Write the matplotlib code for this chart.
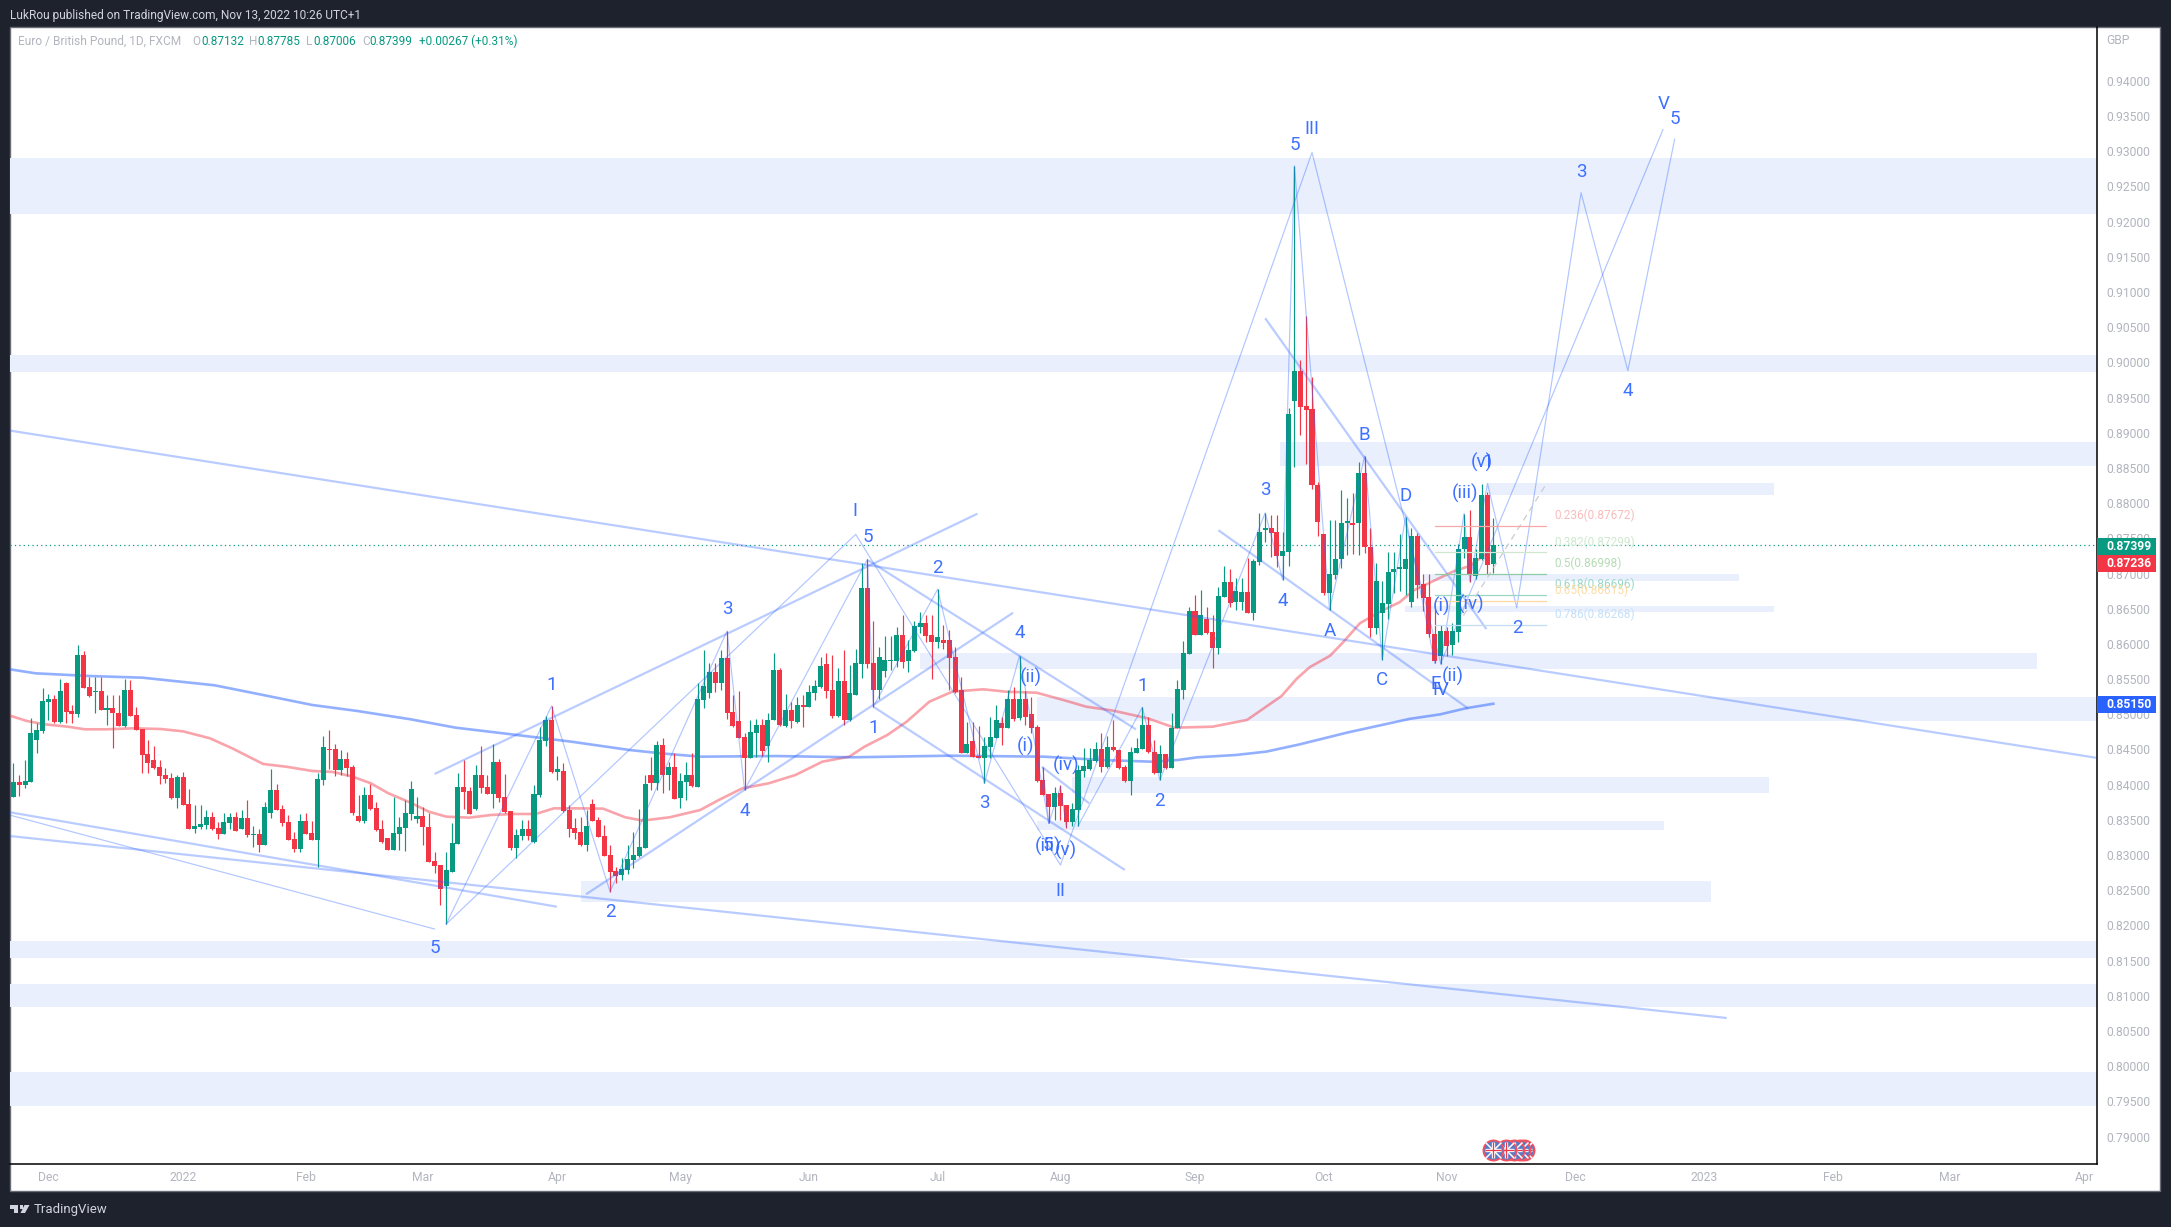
import numpy as np
import matplotlib
matplotlib.use("Agg")
import matplotlib.pyplot as plt
from matplotlib.patches import Rectangle, Polygon

plt.rcParams["font.family"] = ["Roboto", "DejaVu Sans"]

# daily candles
opens = [
    .83831,.84039,.83996,.84043,.84635,.84764,.85175,.85217,.84891,.85450,
    .85047,.85004,.85843,.85393,.85317,.85331,.85066,.85090,.85019,.84839,
    .85345,.84990,.84796,.84436,.84351,.84251,.84138,.84095,.83816,.84109,
    .83726,.83376,.83404,.83428,.83546,.83390,.83305,.83461,.83541,.83376,
    .83527,.83290,.83300,.83148,.83603,.83925,.83655,.83470,.83229,.83092,
    .83485,.83314,.83220,.84071,.84507,.84507,.84209,.84365,.84256,.83555,
    .83485,.83854,.83669,.83371,.83243,.83073,.83300,.83390,.83589,.83513,
    .83555,.83404,.82916,.82859,.82561,.82765,.83162,.83967,.83911,.83650,
    .84138,.83967,.83868,.84323,.83826,.83627,.83101,.83272,.83371,.83186,
    .83849,.84626,.84920,.84181,.84195,.83640,.83385,.83328,.83144,.83726,
    .83499,.83271,.83000,.82774,.82717,.82788,.82930,.82987,.83101,.84138,
    .84024,.84564,.84138,.84251,.83811,.84039,.84138,.83972,
    .85203,.85307,.85601,.85445,.85800,.85033,.84905,.84677,.84379,.84739,
    .84848,.84550,.84920,.85630,.84834,.85061,.84891,.85132,.85104,.85307,
    .85388,.85714,.85345,.84976,.85473,.84920,.85274,.85714,.86794,.85729,
    .85345,.85615,.85752,.85752,.86126,.85757,.85899,.86240,.86297,.86126,
    .86027,.86055,.86055,.85814,.85345,.84450,.84622,.84407,.84379,.84535,
    .84663,.84876,.84805,.85217,.84947,.85217,.85004,.84819,.84066,.83868,
    .83683,.83882,.83711,.83470,.83641,.84194,.84223,.84336,.84507,.84251,
    .84535,.84493,.84251,.84052,.84450,.84507,.84848,.84465,.84161,.84436,
    .84237,.84805,.85345,.85856,.86467,.86126,.86354,.86169,.85942,.86666,
    .86879,.86595,.86595,.86737,.86440,.87163,.87618,.87646,.87589,.87248,
    .87310,.89457,.89876,.89381,.89338,.88251,.87560,.86717,.86984,.87212,
    .87723,.87723,.87723,.88425,.87370,.86228,.86446,.86566,.87027,.87071,
    .87071,.86593,.87533,.86848,.86663,.86147,.85821,.86185,.85978,.86174,
    .87354,.87517,.86962,.87207,.88110,.87132,
]
closes = [
    .84039,.83996,.84053,.84740,.84778,.85189,.85217,.84891,.85331,.85033,
    .85004,.85843,.85379,.85260,.85331,.85066,.85090,.85014,.84839,.85345,
    .84981,.84782,.84427,.84313,.84237,.84124,.84086,.83811,.84114,.83717,
    .83376,.83413,.83442,.83546,.83376,.83305,.83470,.83541,.83347,.83527,
    .83286,.83300,.83148,.83683,.83925,.83640,.83451,.83215,.83092,.83485,
    .83300,.83220,.84081,.84536,.84498,.84209,.84365,.84242,.83593,.83485,
    .83854,.83650,.83357,.83191,.83073,.83310,.83404,.83598,.83939,.83555,
    .83394,.82907,.82850,.82519,.82788,.83172,.83967,.83901,.83584,.84138,
    .83958,.83868,.84323,.83807,.83612,.83101,.83286,.83371,.83272,.83868,
    .84635,.84920,.84181,.84223,.83627,.83371,.83314,.83144,.83413,.83485,
    .83257,.82990,.82760,.82703,.82803,.82945,.83000,.83115,.84010,.84024,
    .84564,.84138,.84251,.83802,.84053,.84138,.83981,.85217,
    .85402,.85601,.85445,.85800,.85023,.84834,.84663,.84379,.84749,.84848,
    .84479,.84920,.85630,.84848,.85061,.84905,.85132,.85104,.85317,.85402,
    .85686,.85336,.84976,.85473,.84920,.85298,.85729,.86794,.85714,.85345,
    .85814,.85771,.85771,.86126,.85743,.85913,.86254,.86297,.86112,.86027,
    .86098,.86017,.85800,.85321,.84450,.84578,.84393,.84379,.84550,.84677,
    .84920,.84805,.85217,.84938,.85217,.84961,.84805,.84052,.83853,.83683,
    .83882,.83697,.83470,.83655,.84209,.84265,.84350,.84507,.84251,.84535,
    .84493,.84237,.84052,.84464,.84521,.84848,.84460,.84161,.84436,.84237,
    .84805,.85360,.85866,.86467,.86126,.86410,.86155,.85942,.86680,.86879,
    .86581,.86751,.86737,.86440,.87182,.87589,.87646,.87575,.87248,.87319,
    .89267,.89876,.89370,.89327,.88251,.87734,.86717,.86990,.87212,.87723,
    .87740,.87696,.88425,.87370,.86228,.86892,.86582,.87027,.87071,.87093,
    .87201,.87533,.86837,.86658,.86147,.85750,.86185,.85967,.86185,.87354,
    .87517,.86973,.87218,.88110,.87125,.87399,
]
highs = [
    .84304,.84138,.84351,.84943,.84872,.85369,.85284,.85274,.85497,.85464,
    .85132,.85985,.85900,.85535,.85535,.85535,.85274,.85274,.85274,.85497,
    .85487,.85109,.84796,.84635,.84550,.84351,.84232,.84162,.84138,.84185,
    .83939,.83712,.83712,.83640,.83617,.83475,.83593,.83603,.83617,.83640,
    .83783,.83413,.83366,.83759,.84218,.84010,.83712,.83570,.83333,.83584,
    .83603,.83489,.84162,.84692,.84778,.84574,.84493,.84469,.84280,.83854,
    .83972,.84010,.83759,.83499,.83243,.83831,.83546,.83783,.84057,.83831,
    .83688,.83593,.83049,.82859,.83049,.83451,.84162,.84351,.83972,.84280,
    .84550,.84138,.84578,.84361,.84152,.83627,.83366,.83499,.83499,.83996,
    .84825,.84976,.85118,.84408,.84304,.83712,.83522,.83546,.83640,.83797,
    .83546,.83428,.83144,.82826,.82954,.83144,.83333,.83650,.84138,.84398,
    .84616,.84659,.84327,.84446,.84162,.84327,.84446,.85440,
    .85913,.85724,.85724,.85913,.86183,.85274,.85331,.84730,.84920,.84933,
    .84933,.85023,.85866,.85653,.85288,.85180,.85251,.85274,.85411,.85487,
    .85819,.85866,.85842,.85653,.85913,.85700,.85923,.87144,.87201,.86325,
    .85961,.86112,.86112,.86245,.86410,.86055,.86330,.86458,.86410,.86410,
    .86775,.86268,.86197,.85961,.85535,.84895,.84895,.84834,.84673,.84966,
    .85132,.84966,.85345,.85392,.85833,.85336,.85251,.84848,.84256,.83868,
    .83972,.83996,.83711,.83735,.84280,.84526,.84516,.84611,.84730,.84692,
    .84920,.84493,.84280,.84540,.84658,.85099,.84966,.84635,.84564,.84436,
    .85014,.85487,.86041,.86519,.86694,.86765,.86529,.86410,.86813,.87106,
    .87059,.86931,.86931,.87215,.87201,.87855,.87855,.87831,.87831,.87594,
    .89354,.92790,.90028,.90659,.89789,.88305,.87560,.87761,.87761,.88180,
    .88071,.88142,.88577,.88669,.87653,.87147,.86892,.87299,.87299,.87560,
    .87805,.87653,.87582,.87000,.87000,.86484,.86266,.86240,.86294,.87419,
    .87843,.87897,.87354,.88278,.88158,.87785,
]
lows = [
    .83831,.83845,.83958,.84043,.84455,.84730,.84920,.84881,.84872,.84872,
    .84872,.84967,.85379,.85251,.85014,.85061,.84848,.84526,.84839,.84825,
    .84981,.84782,.84162,.84162,.84228,.84010,.84020,.83792,.83674,.83712,
    .83366,.83319,.83376,.83366,.83357,.83234,.83295,.83366,.83347,.83366,
    .83262,.83120,.83044,.83139,.83522,.83640,.83413,.83215,.83049,.83049,
    .83300,.83215,.82836,.84001,.84218,.84124,.84138,.84124,.83570,.83475,
    .83461,.83640,.83347,.83177,.83073,.83073,.83073,.83063,.83499,.83451,
    .83144,.82907,.82750,.82291,.82021,.82765,.83162,.83650,.83584,.83640,
    .83878,.83868,.83664,.83759,.83603,.83073,.82954,.83215,.83215,.83177,
    .83831,.84550,.84171,.84067,.83617,.83262,.83224,.83130,.83063,.83485,
    .83257,.82987,.82481,.82599,.82647,.82732,.82812,.82978,.83096,.83925,
    .83925,.83878,.83925,.83802,.83664,.83783,.83963,.83972,
    .85085,.85227,.85312,.85345,.84928,.84824,.84659,.83925,.84374,.84398,
    .84407,.84327,.84920,.84834,.84824,.84810,.84872,.84824,.85099,.85203,
    .85369,.85227,.84943,.84966,.84848,.84910,.85274,.85516,.85653,.85108,
    .85213,.85535,.85630,.85677,.85653,.85601,.85890,.86150,.86032,.85500,
    .85937,.85927,.85345,.85307,.84445,.84445,.84388,.84374,.84019,.84374,
    .84659,.84564,.84800,.84910,.84920,.84848,.84730,.84043,.83853,.83451,
    .83498,.83498,.83380,.83413,.83413,.84114,.84209,.84327,.84185,.84232,
    .84483,.84228,.84043,.83858,.84445,.84502,.84445,.84152,.84066,.84228,
    .84232,.84805,.85217,.85856,.86126,.86122,.86140,.85662,.85857,.86661,
    .86529,.86481,.86481,.86434,.86339,.87121,.87452,.87239,.87097,.86908,
    .87109,.88517,.88974,.88550,.88196,.87527,.86701,.86484,.86919,.87082,
    .87261,.87272,.87261,.87288,.86093,.86147,.85777,.86348,.86728,.86756,
    .86701,.86522,.86658,.86473,.86093,.85723,.85712,.85832,.85843,.86022,
    .87218,.86875,.86919,.87191,.87000,.87006,
]

# moving averages, sampled along the curves (bar, price)
ma_red_bars = [-0.6,2.3,5.3,9.2,12.2,16,20.6,25.2,29,33.6,37.4,42.7,46.6,51.1,54.6,58,61.1,64.1,67.9,71,74,77.9,
               81.7,85.5,89.3,92.4,96.2,100.8,104.6,107.6,112.2,117.4,120.6,124.6,129.1,133.7,138.3,142.9,145.5,
               149.4,152.7,156.6,160.5,165.8,169.7,174.9,179.5,183.4,188,193.9,198.5,205,210.9,216.8,219.4,221.6,
               225.1,227.3,230.2,233.6,237,239.3,242.7,246.1,249,253]
ma_red_vals = [.84981,.84905,.84858,.84825,.84787,.84787,.84801,.84791,.84758,.84659,.84517,.84294,.84256,.84195,
               .84181,.84114,.8402,.83878,.83745,.83617,.83546,.83532,.8357,.83584,.83584,.83664,.83664,.8366,
               .83537,.8349,.83537,.8364,.83783,.83948,.84019,.84138,.84327,.84398,.8454,.84706,.84895,.8518,
               .85321,.85355,.85321,.85307,.85203,.85108,.85052,.84943,.8481,.84824,.8492,.8526,.85506,.85669,
               .85832,.86022,.86294,.86457,.86593,.86756,.86892,.87027,.87109,.87354]
ma_blue_bars = [-0.6,3.8,13,22.1,34.4,42.7,51.1,58.8,67.9,75.6,84.7,95.4,105.3,110.7,117.4,130.5,143.5,159.9,176.2,
                186,194.5,199.1,202.4,209,214.2,219.9,228,238.7,243.9,248.4,253]
ma_blue_vals = [.85639,.85582,.85544,.8552,.85412,.85274,.85132,.85047,.84929,.8481,.8472,.84611,.84493,.84446,
                .84398,.84407,.84389,.84412,.84398,.84351,.84327,.84351,.84389,.84422,.8447,.84573,.84740,.84935,
                .84999,.85087,.8515]

# support / resistance zones: first bar, last bar, low, high
zone_start = [-1,-1,216.6,251.9,240.9,237.9,155,175,181,175,97,-1,-1,-1]
zone_end = [357,357,357,300.9,295,300.9,346,357,300.2,282.2,290.2,357,357,357]
zone_low = [.92109,.89865,.88533,.88116,.86893,.86457,.85644,.84909,.83886,.83356,.82338,.81543,.80842,.79434]
zone_high = [.92903,.90104,.88871,.88279,.86990,.86538,.85871,.85246,.84111,.83484,.82631,.81780,.81169,.79917]

# thick trend lines: bar0, price0, bar1, price1
trend_bar0 = [-0.6,-0.6,-0.6,72,97.9,146.1,147,175.8,206,214]
trend_val0 = [.8903,.83271,.83608,.84152,.82443,.87188,.85108,.84256,.87615,.90626]
trend_bar1 = [356.1,292.9,92.9,164.8,170.9,191.9,190,183.9,248.7,251.8]
trend_val1 = [.84382,.80686,.82267,.87849,.86443,.84786,.82789,.83736,.85082,.86212]

# thin elliott wave paths
big_wave_bars = [74,144,179,222,244,282]
big_wave_vals = [.82021,.87556,.82859,.9298,.85723,.93305]
wave_a_bars = [74,92,102,122,125,146,147,158,166,172,177]
wave_a_vals = [.82021,.85118,.82481,.86183,.83925,.87201,.85108,.86775,.84019,.85833,.83451]
wave_b_bars = [176,177,179,180]
wave_b_vals = [.84232,.83451,.83972,.83404]
wave_c_bars = [182,193,196,214,217,219,225,231,234,238,243]
wave_c_vals = [.83413,.85099,.84066,.87862,.86908,.9279,.86484,.88669,.85777,.87805,.85723]
wave_d_bars = [244,248,249,252,257,268,276,284]
wave_d_vals = [.85714,.87854,.86884,.88281,.86511,.92409,.89881,.9317]
wave_e_bars = [-0.6,72]
wave_e_vals = [.83568,.8195]

fib_levels = ["0.236(0.87672)","0.382(0.87299)","0.5(0.86998)","0.618(0.86696)","0.65(0.86615)","0.786(0.86268)"]
fib_vals = [.87672,.87299,.86998,.86696,.86615,.86268]
fib_line_colors = ["#f7a9a9","#cfe6cf","#8fcba6","#9ad6c4","#fdd8a0","#c5dcf5"]
fib_text_colors = ["#f9bcbc","#cfe8cf","#b5dcb5","#9bd8c8","#fddca8","#c4e0f8"]

wave_labels = ["1","2","5","I","5","3","4","1","2","4","3","(ii)","(i)","(iv)","(iii)","5","(v)","II","1","2",
               "III","5","3","4","A","B","C","D","E","IV","(ii)","(i)","(iv)","(iii)","(v)","1","3","4","2","V","5"]
wave_label_bars = [92,102,72,143.9,146,122,125,147,157.9,172,166,174,173,180,176.9,176.8,180,179,193,196,
                   222,219,214,217,225,231,234,238,243.1,244,246,244.15,249.2,248.1,251,252.1,268,276,257.1,282.2,284.1]
wave_label_vals = [.85416,.82196,.81676,.87890,.87514,.86491,.83626,.848,.87073,.8615,.83735,.85525,.8455,.8428,
                   .83129,.83145,.83072,.82495,.85407,.83768,.93310,.93089,.8818,.86614,.8618,.88974,.85489,.88104,
                   .85424,.85342,.85533,.86538,.86565,.88142,.88577,.88586,.92708,.89599,.86228,.93669,.93456]

month_labels = ["Dec","2022","Feb","Mar","Apr","May","Jun","Jul","Aug","Sep","Oct","Nov","Dec","2023","Feb","Mar","Apr"]
month_bars = [6,29,50,70,93,114,136,158,179,202,224,245,267,289,311,331,354]
price_ticks = [.79,.795,.80,.805,.81,.815,.82,.825,.83,.835,.84,.845,.85,.855,.86,.865,.87,.875,.88,.885,
               .89,.895,.90,.905,.91,.915,.92,.925,.93,.935,.94]
flag_bars = [253,255.1,256.5,257.5,258.2]

UP = "#089981"
DOWN = "#f23645"
BLUE = "#2962ff"
DARK = "#1e222d"
GREY = "#b2b5be"
W, H = 2171, 1227

fig = plt.figure(figsize=(W / 100, H / 100), dpi=100, facecolor=DARK)
fig.add_artist(Rectangle((10 / W, 1 - 1191 / H), 2150 / W, 1164 / H, transform=fig.transFigure,
                         fc="white", ec="#6a6d78", lw=1, zorder=-1))

ax = fig.add_axes([10 / W, 1 - 1164 / H, 2087 / W, 1137 / H])
ax.patch.set_alpha(0)
ax.set_xlim(-0.58, 356.2)
ax.set_ylim(0.78612, 0.94763)
for s in ["left", "top"]:
    ax.spines[s].set_visible(False)
for s in ["right", "bottom"]:
    ax.spines[s].set_color("black")
    ax.spines[s].set_linewidth(1.1)

for x0, x1, lo, hi in zip(zone_start, zone_end, zone_low, zone_high):
    ax.add_patch(Rectangle((x0, lo), x1 - x0, hi - lo, fc="#e9effd", ec="none", zorder=1))

ax.axhline(0.87399, color=UP, lw=0.9, ls=(0, (1, 2.5)), zorder=2)
ax.plot(ma_red_bars, ma_red_vals, color="#f23645", alpha=0.45, lw=1.9, zorder=2.5)
ax.plot(ma_blue_bars, ma_blue_vals, color="#2962ff", alpha=0.5, lw=1.9, zorder=2.5)

o, c, h, l = map(np.array, (opens, closes, highs, lows))
bars = np.arange(len(o))
colors = np.where(c >= o, UP, DOWN)
ax.vlines(bars, l, h, colors=colors, lw=0.85, zorder=3)
ax.bar(bars, np.abs(c - o), bottom=np.minimum(o, c), width=0.86, color=colors, zorder=3.1)

for x0, y0, x1, y1 in zip(trend_bar0, trend_val0, trend_bar1, trend_val1):
    ax.plot([x0, x1], [y0, y1], color=BLUE, alpha=0.32, lw=1.6, zorder=4, solid_capstyle="butt")
for xs, ys in [(big_wave_bars, big_wave_vals), (wave_a_bars, wave_a_vals), (wave_b_bars, wave_b_vals),
               (wave_c_bars, wave_c_vals), (wave_d_bars, wave_d_vals), (wave_e_bars, wave_e_vals)]:
    ax.plot(xs, ys, color=BLUE, alpha=0.36, lw=0.85, zorder=4)
ax.plot([247.9, 262.1], [.86402, .88278], color="#c9cbd1", lw=0.9, ls=(0, (5, 4)), zorder=4)

for name, val, lc, tc in zip(fib_levels, fib_vals, fib_line_colors, fib_text_colors):
    ax.plot([243, 262], [val, val], color=lc, lw=0.9, zorder=4)
    ax.annotate(name, (263.4, val), xytext=(0, 7.5), textcoords="offset points", color=tc,
                fontsize=8.5, va="center", ha="left", zorder=5)

for lab, x, y in zip(wave_labels, wave_label_bars, wave_label_vals):
    ax.text(x, y, lab, color=BLUE, fontsize=13.5, ha="center", va="center", zorder=6, alpha=0.9)

# economic event flags
trans = ax.get_xaxis_transform()
for i, x in reversed(list(enumerate(flag_bars))):
    z = 7 + (len(flag_bars) - i) * 0.1
    ax.scatter([x], [0.0123], s=210, fc="#5b78c4", ec="#f4525f", lw=1.3, transform=trans, zorder=z, clip_on=False)
    ax.scatter([x], [0.0123], s=130, marker="x", c="white", lw=1.1, transform=trans, zorder=z + 0.005)
    ax.scatter([x], [0.0123], s=130, marker="+", c="white", lw=2.4, transform=trans, zorder=z + 0.01)
    ax.scatter([x], [0.0123], s=130, marker="+", c="#f23645", lw=0.9, transform=trans, zorder=z + 0.02)

ax.set_xticks(month_bars, month_labels)
ax.set_yticks(price_ticks, [f"{v:.5f}" for v in price_ticks])
ax.yaxis.tick_right()
ax.tick_params(axis="x", length=0, pad=5, labelsize=8.7, labelcolor=GREY)
ax.tick_params(axis="y", length=0, pad=7, labelsize=8.7, labelcolor=GREY)

# header and footer
fig.text(10 / W, 1 - 15 / H, "LukRou published on TradingView.com, Nov 13, 2022 10:26 UTC+1",
         color="#d1d4dc", fontsize=8.6, va="center")
legend_y = 1 - 41.5 / H
fig.text(18 / W, legend_y, "Euro / British Pound, 1D, FXCM", color=GREY, fontsize=8.6, va="center")
for x, txt, col in [(192.5, "O", GREY), (201, "0.87132", UP), (249, "H", GREY), (257.5, "0.87785", UP),
                    (306, "L", GREY), (313, "0.87006", UP), (362, "C", GREY), (369.7, "0.87399", UP),
                    (419, "+0.00267 (+0.31%)", UP)]:
    fig.text(x / W, legend_y, txt, color=col, fontsize=8.5, va="center")
fig.text(2106.7 / W, 1 - 40.5 / H, "GBP", color=GREY, fontsize=8.7, va="center")

for top, bot, col, txt in [(538, 555, UP, "0.87399"), (555, 572, DOWN, "0.87236"), (696, 712.7, BLUE, "0.85150")]:
    fig.add_artist(Rectangle((2097 / W, 1 - bot / H), 59 / W, (bot - top) / H, transform=fig.transFigure,
                             fc=col, ec="none", zorder=5))
    fig.text(2106.7 / W, 1 - (top + bot) / 2 / H, txt, color="white", fontsize=8.7, fontweight="bold",
             va="center", zorder=6)

# footer logo
logo = "#d1d4dc"
fig.add_artist(Polygon([(10 / W, 1 - 1205 / H), (18 / W, 1 - 1205 / H), (18 / W, 1 - 1213 / H), (14 / W, 1 - 1213 / H),
                        (14 / W, 1 - 1208.5 / H), (10 / W, 1 - 1208.5 / H)], transform=fig.transFigure, fc=logo, ec="none"))
fig.add_artist(Polygon([(24.5 / W, 1 - 1205 / H), (29.5 / W, 1 - 1205 / H), (25 / W, 1 - 1213 / H), (20.5 / W, 1 - 1213 / H)],
                       transform=fig.transFigure, fc=logo, ec="none"))
fig.add_artist(Rectangle((19.5 / W, 1 - 1208.5 / H), 3.5 / W, 3.5 / H, transform=fig.transFigure, fc=logo, ec="none"))
fig.text(33.5 / W, 1 - 1209 / H, "TradingView", color=logo, fontsize=9.5, va="center")

fig.savefig("out.png", dpi=100, facecolor=DARK)
